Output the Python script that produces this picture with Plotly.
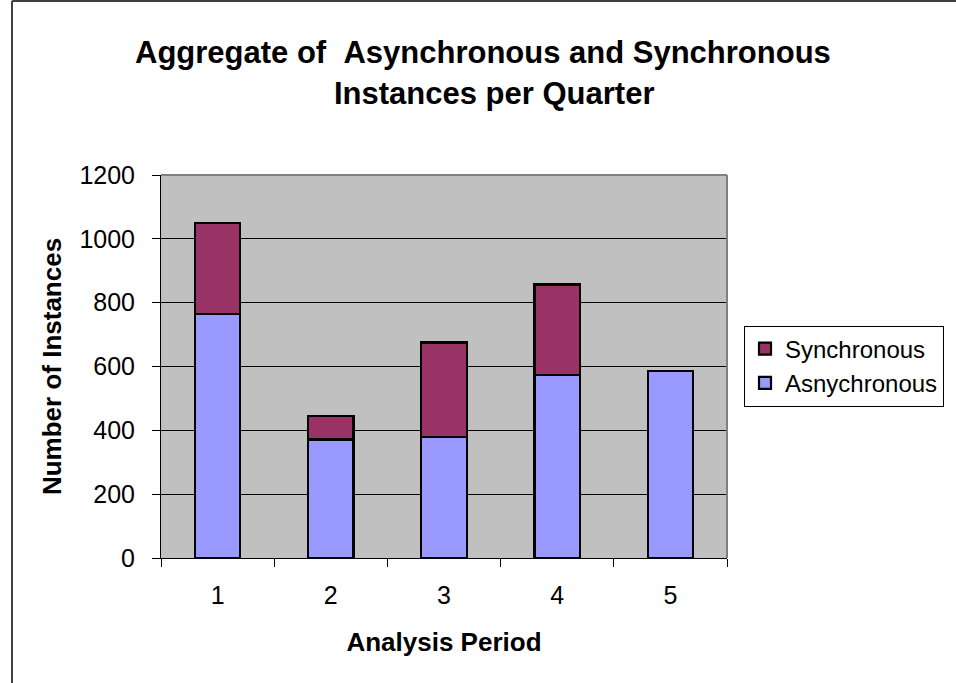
import plotly.graph_objects as go

# Quarterly instance counts
periods = ["1", "2", "3", "4", "5"]
asynchronous = [765, 371, 378, 573, 585]
synchronous = [285, 73, 297, 284, 0]

title_lines = ["Aggregate of \u00a0Asynchronous and Synchronous", "Instances per Quarter"]

FONT = "Liberation Sans, Arial, sans-serif"
W, H = 956, 683
L, R, T, B = 161, 229, 175, 125
PW, PH = W - L - R, H - T - B


def px_x(x):
    return (x - L) / PW


def px_y(y):
    return (H - B - y) / PH


fig = go.Figure()
fig.add_trace(go.Bar(
    x=periods, y=asynchronous, name="Asnychronous",
    marker=dict(color="#9999FF", line=dict(color="black", width=2.2)),
))
fig.add_trace(go.Bar(
    x=periods, y=synchronous, name="Synchronous",
    marker=dict(color="#993366", line=dict(color="black", width=2.2)),
))

fig.update_layout(
    width=W, height=H,
    margin=dict(l=L, r=R, t=T, b=B, pad=0),
    paper_bgcolor="white",
    plot_bgcolor="#C0C0C0",
    barmode="stack",
    bargap=0.6,
    font=dict(family=FONT, size=25, color="black"),
    legend=dict(
        x=px_x(744), xanchor="left",
        y=px_y(366), yanchor="middle",
        traceorder="reversed",
        bgcolor="white", bordercolor="black", borderwidth=1,
        font=dict(family=FONT, size=24, color="black"),
    ),
    showlegend=True,
)

# two-line chart title, each line placed on its own
for text, x_left, y_mid in [(title_lines[0], 133, 53), (title_lines[1], 332, 93)]:
    fig.add_annotation(
        text=f"<b>{text}</b>", showarrow=False,
        xref="paper", yref="paper",
        x=px_x(x_left), xanchor="left",
        y=px_y(y_mid), yanchor="middle",
        font=dict(family=FONT, size=31, color="black"),
    )

fig.update_xaxes(
    type="category",
    showline=True, linecolor="black", linewidth=1,
    ticks="outside", tickson="boundaries", ticklen=8, tickcolor="black",
    ticklabelstandoff=15,
    showgrid=False,
    tickfont=dict(family=FONT, size=25, color="black"),
    title=dict(text="<b>Analysis Period</b>",
               font=dict(family=FONT, size=26, color="black"), standoff=24),
)
fig.update_yaxes(
    range=[0, 1200], dtick=200,
    showline=True, linecolor="black", linewidth=1,
    ticks="outside", ticklen=8, tickcolor="black",
    ticklabelstandoff=12,
    showgrid=True, gridcolor="black", gridwidth=1,
    zeroline=False,
    tickfont=dict(family=FONT, size=25, color="black"),
    title=dict(text="<b>Number of Instances</b>",
               font=dict(family=FONT, size=26, color="black"), standoff=10),
)

# grey plot-area frame on the top and right
fig.add_shape(type="line", xref="paper", yref="paper", x0=0, x1=1, y0=1, y1=1,
              line=dict(color="#808080", width=2), layer="above")
fig.add_shape(type="line", xref="paper", yref="paper", x0=1, x1=1, y0=0, y1=1,
              line=dict(color="#808080", width=2), layer="above")

# chart-area border along the top and left edges
fig.add_shape(type="line", xref="paper", yref="paper",
              x0=px_x(12), x1=px_x(W + 5), y0=px_y(1), y1=px_y(1),
              line=dict(color="#404040", width=2))
fig.add_shape(type="line", xref="paper", yref="paper",
              x0=px_x(12), x1=px_x(12), y0=px_y(1), y1=px_y(H + 5),
              line=dict(color="#404040", width=2))

fig.write_html("out.html")
